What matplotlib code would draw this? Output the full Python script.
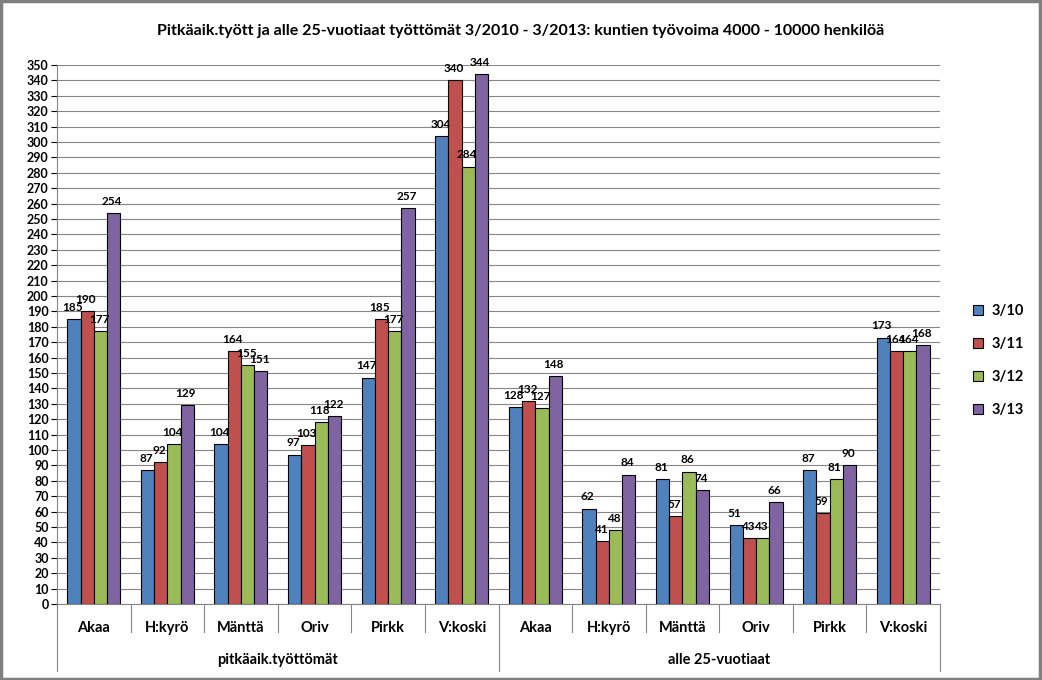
import matplotlib.pyplot as plt
import numpy as np
from matplotlib.patches import Rectangle

plt.rcParams['font.family'] = ['Lato', 'DejaVu Sans']

# Data
kunnat = ['Akaa', 'H:kyrö', 'Mänttä', 'Oriv', 'Pirkk', 'V:koski']
ryhmat = ['pitkäaik.työttömät', 'alle 25-vuotiaat']
sarjat = ['3/10', '3/11', '3/12', '3/13']
varit = ['#4f81bd', '#c0504d', '#9bbb59', '#8064a2']

v_3_10 = [185, 87, 104, 97, 147, 304, 128, 62, 81, 51, 87, 173]
v_3_11 = [190, 92, 164, 103, 185, 340, 132, 41, 57, 43, 59, 164]
v_3_12 = [177, 104, 155, 118, 177, 284, 127, 48, 86, 43, 81, 164]
v_3_13 = [254, 129, 151, 122, 257, 344, 148, 84, 74, 66, 90, 168]
arvot = [v_3_10, v_3_11, v_3_12, v_3_13]

fig = plt.figure(figsize=(10.42, 6.8), dpi=100)
fig.patches.append(Rectangle((0.001, 0.001), 0.997, 0.997, transform=fig.transFigure,
                             fill=False, edgecolor='#7f7f7f', linewidth=2.5))
ax = fig.add_axes([57 / 1042, 1 - 604 / 680, (940 - 57) / 1042, (604 - 65) / 680])

n = len(v_3_10)
x = np.arange(n)
leveys = 0.18
for i, (arvo, vari, nimi) in enumerate(zip(arvot, varit, sarjat)):
    pos = x + (i - 1.5) * leveys
    ax.bar(pos, arvo, width=leveys, color=vari, edgecolor='black', linewidth=0.8,
           label=nimi, zorder=3)
    for px, v in zip(pos, arvo):
        ax.text(px - 0.02, v + 4, str(v), ha='center', va='bottom', fontsize=8.5,
                fontweight='bold', zorder=4)

ax.set_xlim(-0.5, n - 0.5)
ax.set_ylim(0, 350)
ax.set_yticks(range(0, 351, 10))
ax.tick_params(axis='y', labelsize=9, length=4, direction='out', pad=2)
for lab in ax.get_yticklabels():
    lab.set_fontweight('bold')
ax.grid(axis='y', color='#868686', linewidth=0.8, zorder=0)
ax.set_xticks([])
for s in ['top', 'right']:
    ax.spines[s].set_visible(False)
ax.spines['left'].set_color('#868686')
ax.spines['bottom'].set_color('#868686')

# category axis labels
trans = ax.get_xaxis_transform()
for i in range(n):
    ax.text(i, -0.045, kunnat[i % 6], transform=trans, ha='center', va='center',
            fontsize=10.5, fontweight='bold')
for b in np.arange(-0.5, n, 1):
    pituus = -0.125 if b in (-0.5, 5.5, n - 0.5) else -0.052
    ax.plot([b, b], [0, pituus], transform=trans, color='#868686', linewidth=0.8,
            clip_on=False)
for j, ryhma in enumerate(ryhmat):
    ax.text(2.5 + 6 * j, -0.104, ryhma, transform=trans, ha='center', va='center',
            fontsize=10.5, fontweight='bold')

fig.text(0.5, 0.955, 'Pitkäaik.tyött ja alle 25-vuotiaat työttömät 3/2010 - 3/2013: kuntien työvoima 4000 - 10000 henkilöä',
         ha='center', va='center', fontsize=11.5, fontweight='bold')

leg = fig.legend(loc='center left', bbox_to_anchor=(0.921, 0.47), frameon=False,
                 handlelength=0.7, handleheight=0.7, handletextpad=0.6,
                 labelspacing=1.3, prop={'weight': 'bold', 'size': 10.5})

fig.savefig('out.png', dpi=100)
